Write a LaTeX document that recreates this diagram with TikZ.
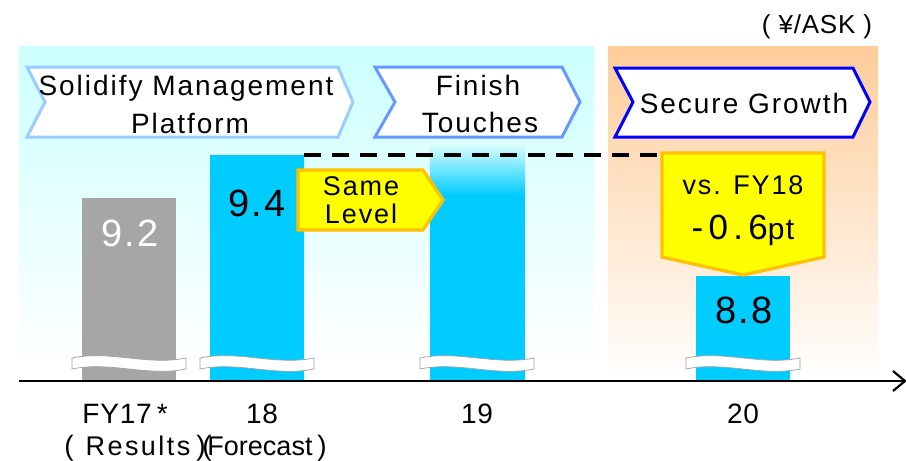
\documentclass[tikz,border=0pt]{standalone}
\usepackage{fontspec}
\setmainfont{Liberation Sans}
\newfontfamily\chevfont[LetterSpace=7]{Liberation Sans}
\newfontfamily\valfont[LetterSpace=5]{Liberation Sans}
\newfontfamily\widefont[LetterSpace=15]{Liberation Sans}
\newfontfamily\lblfont[LetterSpace=3]{Liberation Sans}
\newfontfamily\resfont[LetterSpace=9]{Liberation Sans}
\definecolor{bgcyan}{RGB}{204,255,255}
\definecolor{bgpeach}{RGB}{255,204,153}
\definecolor{barcyan}{RGB}{0,204,255}
\definecolor{bargray}{RGB}{166,166,166}
\definecolor{chevA}{RGB}{153,204,255}
\definecolor{chevB}{RGB}{102,153,255}
\definecolor{chevC}{RGB}{0,0,255}
\definecolor{callfill}{RGB}{255,255,0}
\definecolor{callline}{RGB}{255,192,0}
\definecolor{bandline}{RGB}{160,160,160}
\begin{document}
\begin{tikzpicture}[x=1pt,y=-1pt,
  chevtxt/.style={font={\chevfont\fontsize{28}{32}\selectfont}, inner sep=0, anchor=base},
  calltxt/.style={font={\chevfont\fontsize{27}{32}\selectfont}, inner sep=0, anchor=base},
  valtxt/.style={font={\valfont\fontsize{38}{42}\selectfont}, inner sep=0, anchor=base},
  axtxt/.style={font={\lblfont\fontsize{28}{34}\selectfont}, inner sep=0, anchor=base},
  chevshape/.style={fill=white, line width=3, line join=miter},
  callshape/.style={fill=callfill, draw=callline, line width=3.3, line join=miter},
  band/.style={fill=white, draw=bandline, line width=0.7},
  bar/.style={fill=barcyan}]
\useasboundingbox (0,0) rectangle (906,461);
% backgrounds
\shade[top color=bgcyan, bottom color=white] (19,46) rectangle (594,368);
\shade[top color=bgpeach, bottom color=white!96!bgpeach] (608,46) rectangle (878,368);
% bars
\fill[bargray] (82,198) rectangle (176,381);
\fill[bar] (210,155) rectangle (304,381);
\fill[bar] (430,194) rectangle (525,381);
\shade[top color=bgcyan!60!white, bottom color=barcyan] (430,143) rectangle (525,195);
\fill[bar] (696,276) rectangle (790,381);
% break bands
\foreach \x in {72,200,420,686}{
  \filldraw[band] (\x,358) .. controls ({\x+38},350) and ({\x+76},366) .. ({\x+114},358)
    -- ({\x+114},369) .. controls ({\x+76},377) and ({\x+38},361) .. (\x,369) -- cycle;
}
% dashed level line
\coordinate (d1) at (304,155);
\coordinate (d2) at (657,155);
\draw[line width=3.5, dash pattern=on 17pt off 11pt] (d1) -- (d2);
% chevrons
\draw[chevshape, draw=chevA] (27,67) -- (338,67) -- (353,102) -- (338,137) -- (27,137) -- (45,102) -- cycle;
\draw[chevshape, draw=chevB] (375,67) -- (562,67) -- (580,102) -- (562,137) -- (375,137) -- (395,102) -- cycle;
\draw[chevshape, draw=chevC] (615,68) -- (853,68) -- (870,102) -- (853,137) -- (615,137) -- (633,102) -- cycle;
\node[chevtxt] (c1a) at (186,95) {Solidify Management};
\node[chevtxt] (c1b) at (190,133) {Platform};
\node[chevtxt] (c2a) at (478,95) {Finish};
\node[chevtxt] (c2b) at (480,132) {Touches};
\node[chevtxt] (c3) at (744,113) {Secure Growth};
% callouts
\draw[callshape] (298,170) -- (423,170) -- (443,200) -- (423,230) -- (298,230) -- cycle;
\node[calltxt] (s1) at (361,195) {Same};
\node[calltxt] (s2) at (361,223) {Level};
\draw[callshape] (662,153) -- (824,153) -- (824,257) -- (743,275) -- (662,257) -- cycle;
\node[calltxt] (v1) at (743,194) {vs. FY18};
\node[inner sep=0, anchor=base] (v2) at (743,239) {{\widefont\fontsize{35}{40}\selectfont -0.6}{\valfont\fontsize{30}{32}\selectfont pt}};
% values
\node[valtxt, text=white] (n92) at (130,246) {9.2};
\node[valtxt] (n94) at (257,216) {9.4};
\node[valtxt] (n88) at (744,323) {8.8};
% axis
\coordinate (a0) at (19,381);
\coordinate (a1) at (904,381);
\draw[line width=1.8] (a0) -- (a1);
\draw[line width=2.2, line join=miter] (893,371) -- (905,381) -- (893,391);
% axis labels
\node[axtxt] (l17) at (125,423) {FY17\hspace{5pt}*};
\node[axtxt] (l18) at (262,423) {18};
\node[axtxt] (l19) at (477,423) {19};
\node[axtxt] (l20) at (743,423) {20};
\node[axtxt] (p1) at (69,455) {(};
\node[inner sep=0, anchor=base, font={\resfont\fontsize{27}{32}\selectfont}] (w1) at (138,455) {Results};
\node[axtxt] (p2) at (201,455) {)};
\node[axtxt] (p3) at (207,455) {(};
\node[inner sep=0, anchor=base, font={\fontsize{27}{32}\selectfont}] (w2) at (260,455) {Forecast};
\node[axtxt] (p4) at (322,455) {)};
% unit
\node[inner sep=0, anchor=base, font={\lblfont\fontsize{26}{30}\selectfont}] (unit) at (817,33) {(\hspace{8pt}¥/ASK\hspace{8pt})};
\end{tikzpicture}
\end{document}
